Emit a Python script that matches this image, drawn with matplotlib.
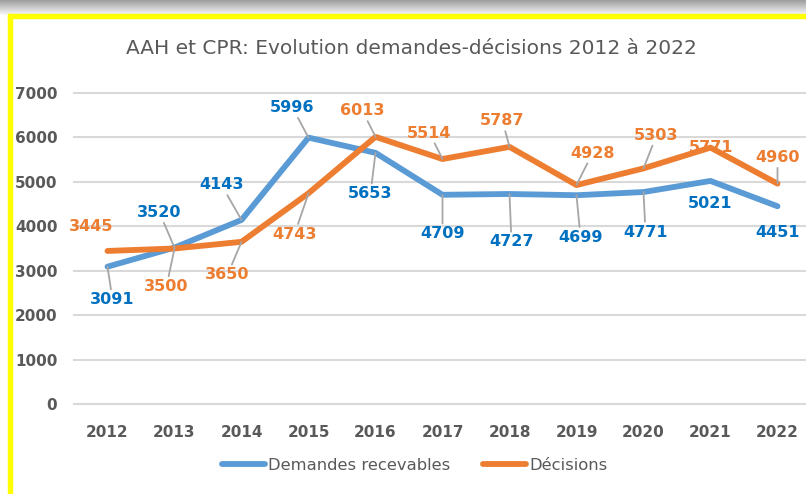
import numpy as np
import matplotlib
matplotlib.use('Agg')
import matplotlib.pyplot as plt
from matplotlib.patches import Rectangle

years = ['2012', '2013', '2014', '2015', '2016', '2017', '2018', '2019', '2020', '2021', '2022']
demandes = [3091, 3520, 4143, 5996, 5653, 4709, 4727, 4699, 4771, 5021, 4451]
decisions = [3445, 3500, 3650, 4743, 6013, 5514, 5787, 4928, 5303, 5771, 4960]

# label offsets in pixels (dx, dy up)
dem_off = [(5, -33), (-15, 35), (-20, 35), (-16, 30), (-5, -41), (0, -39),
           (2, -48), (4, -42), (2, -40), (0, -23), (0, -26)]
dec_off = [(-16, 24), (-8, -38), (-14, -33), (-14, -41), (-13, 26), (-13, 26),
           (-7, 26), (16, 32), (13, 33), (1, 0), (0, 26)]
dem_lead = [1, 1, 1, 1, 1, 1, 1, 1, 1, 0, 0]
dec_lead = [0, 1, 1, 1, 1, 1, 1, 1, 1, 0, 1]

blue_line = '#5B9BD5'
blue_txt = '#0070C0'
orange = '#ED7D31'
gray_txt = '#595959'

W, H = 806, 494
fig = plt.figure(figsize=(W / 100, H / 100), dpi=100)

# top shadow band
sh = fig.add_axes([0, 1 - 15 / H, 1, 15 / H])
grad = np.linspace(0.62, 0.97, 30).reshape(-1, 1)
sh.imshow(grad, aspect='auto', cmap='gray', vmin=0, vmax=1, extent=[0, 1, 0, 1])
sh.axis('off')

# yellow frame
fig.patches.append(Rectangle((8 / W, 0), 4 / W, 1 - 14 / H, transform=fig.transFigure,
                             color='#FFFF00', zorder=5))
fig.patches.append(Rectangle((8 / W, 1 - 18 / H), 1, 4 / H, transform=fig.transFigure,
                             color='#FFFF00', zorder=5))

ax = fig.add_axes([74 / W, 90 / H, 737 / W, 311 / H])
x = np.arange(len(years))
ax.plot(x, demandes, color=blue_line, lw=4.2, solid_capstyle='round', label='Demandes recevables', zorder=3)
ax.plot(x, decisions, color=orange, lw=4.2, solid_capstyle='round', label='Décisions', zorder=3)

ax.set_xlim(-0.5, 10.5)
ax.set_ylim(0, 7000)
ax.set_yticks(range(0, 7001, 1000))
ax.set_xticks(x)
ax.set_xticklabels(years)
ax.grid(axis='y', color='#D9D9D9', lw=1.5, clip_on=False)
ax.set_axisbelow(True)
for s in ax.spines.values():
    s.set_visible(False)
ax.tick_params(length=0, labelsize=11, labelcolor=gray_txt)
ax.tick_params(axis='x', pad=15)
ax.tick_params(axis='y', pad=12)
for t in ax.get_xticklabels() + ax.get_yticklabels():
    t.set_fontweight('bold')

def labels(vals, offs, leads, col):
    for i, v in enumerate(vals):
        dx, dy = offs[i]
        ap = dict(arrowstyle='-', color='#A6A6A6', lw=1.3, shrinkA=0, shrinkB=0) if leads[i] else None
        ax.annotate(str(v), (i, v), xytext=(dx, dy), textcoords='offset pixels',
                    ha='center', va='center', fontsize=11.5, fontweight='bold',
                    color=col, arrowprops=ap, zorder=4, annotation_clip=False)

labels(demandes, dem_off, dem_lead, blue_txt)
labels(decisions, dec_off, dec_lead, orange)

fig.text(411 / W, 1 - 48 / H, 'AAH et CPR: Evolution demandes-décisions 2012 à 2022',
         ha='center', va='center', fontsize=14.5, color=gray_txt)

leg = fig.legend(loc='center', bbox_to_anchor=(415 / W, 1 - 465 / H), ncol=2, frameon=False,
                 fontsize=11.8, handlelength=2.6, handletextpad=0.2, columnspacing=2.0)
for t in leg.get_texts():
    t.set_color(gray_txt)

fig.savefig('out.png', dpi=100)
